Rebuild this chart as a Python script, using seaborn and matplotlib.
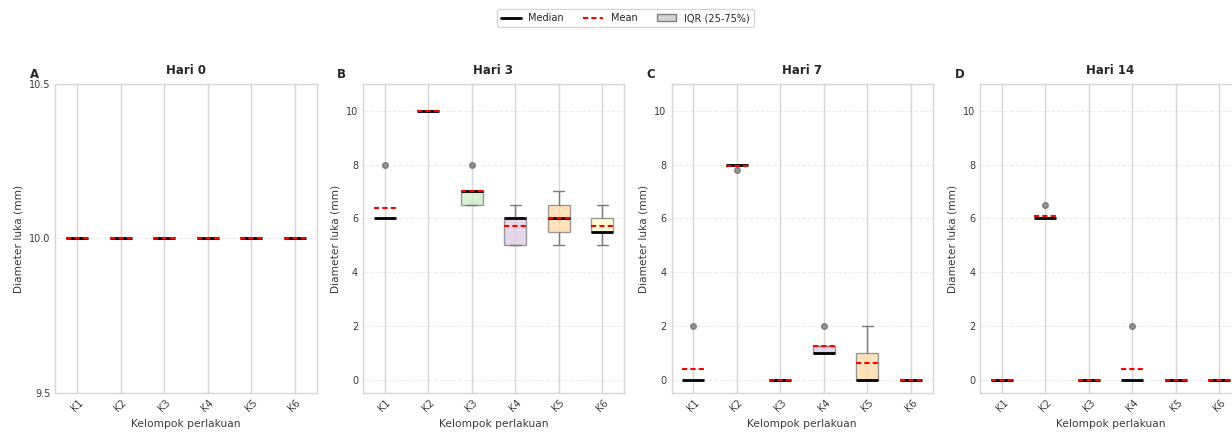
import numpy as np
import pandas as pd
import matplotlib
matplotlib.use("Agg")
import matplotlib.pyplot as plt
from matplotlib.lines import Line2D
from matplotlib.patches import Patch
import seaborn as sns

groups = ["K1", "K2", "K3", "K4", "K5", "K6"]
days = ["Hari 0", "Hari 3", "Hari 7", "Hari 14"]
panel_letters = ["A", "B", "C", "D"]

# Wound diameter (mm) for each animal, one list per treatment group K1..K6
hari_0 = [
    [10, 10, 10, 10, 10],
    [10, 10, 10, 10, 10],
    [10, 10, 10, 10, 10],
    [10, 10, 10, 10, 10],
    [10, 10, 10, 10, 10],
    [10, 10, 10, 10, 10],
]
hari_3 = [
    [6, 6, 6, 6, 8],
    [10, 10, 10, 10, 10],
    [6.5, 6.5, 7, 7, 8],
    [5, 5, 6, 6, 6.5],
    [5, 5.5, 6, 6.5, 7],
    [5, 5.5, 5.5, 6, 6.5],
]
hari_7 = [
    [0, 0, 0, 0, 2],
    [8, 8, 8, 8, 7.8],
    [0, 0, 0, 0, 0],
    [1, 1, 1, 1.25, 2],
    [0, 0, 0, 1, 2],
    [0, 0, 0, 0, 0],
]
hari_14 = [
    [0, 0, 0, 0, 0],
    [6, 6, 6, 6, 6.5],
    [0, 0, 0, 0, 0],
    [0, 0, 0, 0, 2],
    [0, 0, 0, 0, 0],
    [0, 0, 0, 0, 0],
]
day_values = [hari_0, hari_3, hari_7, hari_14]

sns.set_theme(style="whitegrid")
plt.rcParams["font.family"] = ["DejaVu Sans"]
palette = sns.color_palette("Pastel1", len(groups))
mean_dash = (0, (2.5, 1.5))

fig = plt.figure(figsize=(12.32, 4.32), dpi=100)
ax_w, ax_h, ax_b = 0.2119, 0.7153, 0.0903
lefts = [0.0450, 0.2946, 0.5451, 0.7955]
axes = [fig.add_axes([l, ax_b, ax_w, ax_h]) for l in lefts]

for i, (ax, day, values, letter) in enumerate(zip(axes, days, day_values, panel_letters)):
    df = pd.DataFrame({
        "Kelompok": np.repeat(groups, [len(v) for v in values]),
        "Diameter": np.concatenate([np.asarray(v, float) for v in values]),
    })
    sns.boxplot(
        data=df, x="Kelompok", y="Diameter", hue="Kelompok",
        order=groups, hue_order=groups, palette=palette, saturation=1,
        width=0.5, linecolor="gray", linewidth=1, legend=False, ax=ax,
        showmeans=True, meanline=True, capwidths=0.25,
        boxprops=dict(alpha=0.75),
        medianprops=dict(color="black", linewidth=2),
        meanprops=dict(color="red", linestyle=mean_dash, linewidth=1.5),
        flierprops=dict(marker="o", markerfacecolor="gray",
                        markeredgecolor="dimgray", markersize=4, alpha=0.8),
    )
    if i == 0:
        ax.set_ylim(9.5, 10.5)
        ax.set_yticks([9.5, 10.0, 10.5])
    else:
        ax.set_ylim(-0.5, 11)
        ax.set_yticks(range(0, 11, 2))

    ax.grid(axis="x", color="#d6d6d6", linewidth=1, linestyle="-")
    ax.grid(axis="y", color="#cccccc", linewidth=0.8, linestyle="--", alpha=0.35)
    ax.set_axisbelow(True)
    for s in ax.spines.values():
        s.set_color("#d6d6d6")
        s.set_linewidth(1)

    ax.set_title(day, fontsize=8.5, fontweight="bold", pad=7, color="#262626")
    ax.set_xlabel("Kelompok perlakuan", fontsize=7.7, color="#3a3a3a")
    ax.set_ylabel("Diameter luka (mm)", fontsize=7.7, color="#3a3a3a")
    ax.tick_params(axis="both", labelsize=7, colors="#3a3a3a", length=0)
    ax.tick_params(axis="x", labelrotation=45)
    ax.text(-0.098, 1.018, letter, transform=ax.transAxes, fontsize=8.5,
            fontweight="bold", ha="left", va="baseline", color="#262626")

handles = [
    Line2D([0], [0], color="black", linewidth=2, label="Median"),
    Line2D([0], [0], color="red", linestyle=mean_dash, linewidth=1.5, label="Mean"),
    Patch(facecolor="lightgray", edgecolor="gray", label="IQR (25-75%)"),
]
leg = fig.legend(handles=handles, loc="upper center", bbox_to_anchor=(0.5077, 0.99),
                 ncol=3, fontsize=7, frameon=True, columnspacing=2.0)
leg.get_frame().set_edgecolor("#cccccc")

fig.savefig("out.png", dpi=100)
